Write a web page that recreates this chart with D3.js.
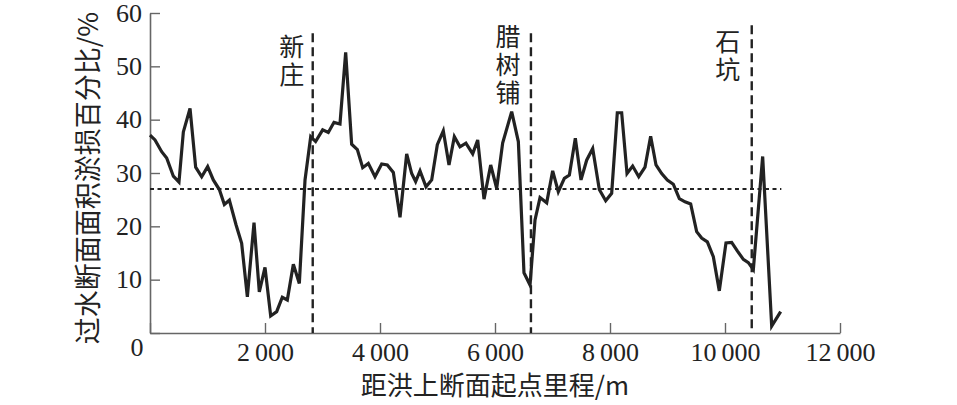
<!DOCTYPE html>
<html>
<head>
<meta charset="utf-8">
<script src="https://cdn.jsdelivr.net/npm/d3@7"></script>
<style>
  html, body { margin: 0; padding: 0; background: #fff; }
  svg { display: block; }
  .num { font-family: "Liberation Serif", "DejaVu Serif", serif; }
  .cjk { font-family: "Noto Sans CJK SC", "Noto Sans", sans-serif; }
  .vert { writing-mode: vertical-rl; text-orientation: upright; }
</style>
</head>
<body>
<svg id="chart" width="957" height="405"></svg>
<script>
// ---- data ----
const distance = [0, 87, 203, 290, 406, 504, 580, 696, 794, 899, 1003, 1101, 1206, 1293, 1380, 1496, 1594, 1693, 1809, 1901, 2000, 2099, 2203, 2301, 2388, 2493, 2597, 2696, 2795, 2880, 3003, 3101, 3200, 3304, 3403, 3507, 3606, 3699, 3797, 3913, 4029, 4127, 4232, 4348, 4464, 4551, 4620, 4696, 4800, 4899, 4997, 5101, 5200, 5293, 5391, 5494, 5612, 5699, 5809, 5925, 6029, 6133, 6290, 6406, 6504, 6609, 6696, 6783, 6899, 7003, 7101, 7206, 7293, 7397, 7496, 7594, 7699, 7814, 7925, 8029, 8127, 8203, 8296, 8394, 8500, 8609, 8707, 8800, 8899, 8997, 9101, 9206, 9304, 9403, 9507, 9594, 9693, 9797, 9901, 10017, 10116, 10214, 10319, 10406, 10493, 10655, 10812, 10968];
const lossPct = [37.1, 36.2, 34.0, 32.8, 29.4, 28.3, 37.7, 42.1, 31.1, 29.3, 31.2, 28.7, 26.9, 24.1, 24.9, 20.3, 16.8, 6.8, 20.7, 7.7, 12.3, 3.2, 4.0, 6.7, 6.2, 12.9, 9.3, 28.7, 36.8, 35.9, 38.1, 37.6, 39.5, 39.2, 52.6, 35.4, 34.4, 31.0, 31.8, 29.3, 31.7, 31.5, 30.1, 21.7, 33.6, 29.9, 28.4, 30.4, 27.4, 28.7, 35.3, 37.9, 31.5, 36.8, 34.9, 35.6, 33.6, 36.2, 25.1, 31.5, 27.1, 35.6, 41.5, 35.9, 11.3, 9.0, 21.2, 25.4, 24.4, 30.4, 26.5, 29.0, 29.6, 36.5, 28.7, 32.4, 34.6, 26.9, 24.8, 26.2, 41.3, 41.3, 29.9, 31.3, 29.3, 31.1, 36.9, 31.5, 29.9, 28.7, 27.9, 25.2, 24.6, 24.2, 19.0, 17.8, 17.1, 14.3, 7.9, 16.9, 17.0, 15.4, 13.8, 13.2, 11.9, 33.1, 1.3, 4.0];
const meanLine = 27.0;           // horizontal dotted reference
const meanLineEnd = 10980;       // extent of dotted line
const stationNames = ["新庄", "腊树铺", "石坑"];
const stationDist = [2830, 6625, 10465];
const stationTop = [56.2, 56.2, 57.7];
const xTicks = [0, 2000, 4000, 6000, 8000, 10000, 12000];
const yTicks = [0, 10, 20, 30, 40, 50, 60];
const xTitle = "距洪上断面起点里程/m";
const yTitle = "过水断面面积淤损百分比/%";

// ---- layout ----
const svg = d3.select("#chart");
const L = 150, R = 840, T = 13, B = 333;
const x = d3.scaleLinear().domain([0, 12000]).range([L, R]);
const y = d3.scaleLinear().domain([0, 60]).range([B, T]);
const fmt = v => d3.format(",")(v).replace(",", "\u2009");

// axes
const axColor = "#666";
const gx = svg.append("g").attr("transform", `translate(0,${B})`)
  .call(d3.axisBottom(x).tickValues(xTicks).tickSizeInner(-10).tickSizeOuter(0).tickPadding(10)
    .tickFormat(d => d === 0 ? "" : fmt(d)));
const gy = svg.append("g").attr("transform", `translate(${L},0)`)
  .call(d3.axisLeft(y).tickValues(yTicks).tickSizeInner(-10).tickSizeOuter(0).tickPadding(8)
    .tickFormat(d => d === 0 ? "" : d));
[gx, gy].forEach(g => {
  g.select(".domain").attr("stroke", axColor).attr("stroke-width", 1.6);
  g.selectAll(".tick line").attr("stroke", axColor).attr("stroke-width", 1.4);
  g.selectAll(".tick text").attr("class", "num").attr("font-size", 26).attr("fill", "#222");
});
// shared origin label
svg.append("text").attr("class", "num").attr("x", 137).attr("y", 356)
  .attr("text-anchor", "middle").attr("font-size", 26).attr("fill", "#222").text("0");

// dotted reference line
svg.append("line")
  .attr("x1", x(0)).attr("x2", x(meanLineEnd))
  .attr("y1", y(meanLine)).attr("y2", y(meanLine))
  .attr("stroke", "#222").attr("stroke-width", 2).attr("stroke-dasharray", "4,3.5");

// station dashed lines
stationDist.forEach((d, i) => {
  svg.append("line")
    .attr("x1", x(d)).attr("x2", x(d))
    .attr("y1", y(stationTop[i])).attr("y2", B)
    .attr("stroke", "#222").attr("stroke-width", 2.4).attr("stroke-dasharray", "9,5");
});
// station labels (vertical text)
const labelTopY = [34, 24, 29];
const labelDx = [-21, -23, -24];
stationNames.forEach((name, i) => {
  svg.append("text").attr("class", "cjk vert")
    .attr("x", x(stationDist[i]) + labelDx[i])
    .attr("y", labelTopY[i])
    .attr("font-size", 25).attr("letter-spacing", 3).attr("fill", "#222")
    .text(name);
});

// data line
const line = d3.line().x((d, i) => x(distance[i])).y(d => y(d));
svg.append("path").datum(lossPct)
  .attr("d", line)
  .attr("fill", "none").attr("stroke", "#222").attr("stroke-width", 3.2)
  .attr("stroke-linejoin", "miter").attr("stroke-miterlimit", 4);

// axis titles
svg.append("text").attr("class", "cjk")
  .attr("x", (L + R) / 2).attr("y", 395)
  .attr("text-anchor", "middle").attr("font-size", 26).attr("fill", "#222")
  .text(xTitle);
svg.append("text").attr("class", "cjk")
  .attr("transform", `translate(98,${178}) rotate(-90)`)
  .attr("text-anchor", "middle").attr("font-size", 27).attr("fill", "#222")
  .text(yTitle);
</script>
</body>
</html>
